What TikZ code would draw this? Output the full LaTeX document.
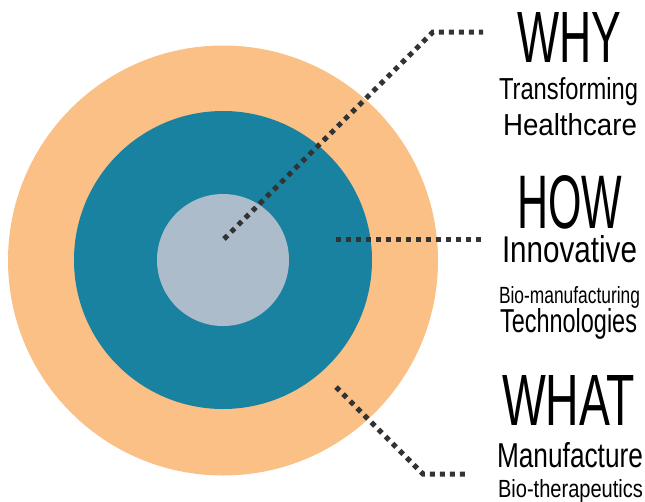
\documentclass[tikz,border=0pt]{standalone}
\usepackage{fontspec}
\setmainfont{Liberation Sans}
\usepackage{graphicx}
\definecolor{outerc}{RGB}{251,192,134}
\definecolor{midc}{RGB}{26,130,161}
\definecolor{innerc}{RGB}{173,188,203}
\definecolor{dotc}{RGB}{51,51,51}
\newcommand{\fitline}[3]{\resizebox{#1pt}{#2pt}{#3}}
\begin{document}
\begin{tikzpicture}[x=1pt,y=-1pt,
  ring/.style={circle,inner sep=0,outer sep=0,draw=none},
  dotline/.style={draw=dotc,line width=5pt,dash pattern=on 5pt off 5pt,line cap=butt},
  lbl/.style={anchor=base west,inner sep=0,outer sep=0,text=black}]
\useasboundingbox (0,0) rectangle (645,501);
\node[ring,fill=outerc,minimum size=430pt] (outer) at (223,260.5) {};
\node[ring,fill=midc,minimum size=298pt] (mid) at (223,260) {};
\node[ring,fill=innerc,minimum size=132pt] (inner) at (223,260) {};
% texts
\node[lbl] (why) at (517,62) {\fitline{104}{50}{WHY}};
\node[lbl] (whyA) at (499,99) {\fitline{139}{22}{Transforming}};
\node[lbl] (whyB) at (503,135) {\fitline{134}{22}{Healthcare}};
\node[lbl] (how) at (517,228) {\fitline{105}{53}{HOW}};
\node[lbl] (howA) at (502,262) {\fitline{135}{27}{Innovative}};
\node[lbl] (howB) at (499,303) {\fitline{141}{17}{Bio-manufacturing}};
\node[lbl] (howC) at (500,332) {\fitline{137}{24}{Technologies}};
\node[lbl] (what) at (502,425) {\fitline{133}{50}{WHAT}};
\node[lbl] (whatA) at (497,467) {\fitline{146}{25}{Manufacture}};
\node[lbl] (whatB) at (498,497) {\fitline{145}{18}{Bio-therapeutics}};
% connectors
\coordinate (whyS) at (224,239);
\coordinate (whyK) at (433,32);
\coordinate (whyE) at (483,32);
\coordinate (howS) at (336,239);
\coordinate (howE) at (484,239);
\coordinate (whatS) at (336,387);
\coordinate (whatK) at (423,474);
\coordinate (whatE) at (468,474);
\draw[dotline] (whyS) -- (whyK) -- (whyE);
\draw[dotline] (howS) -- (howE);
\draw[dotline] (whatS) -- (whatK) -- (whatE);
\end{tikzpicture}
\end{document}
